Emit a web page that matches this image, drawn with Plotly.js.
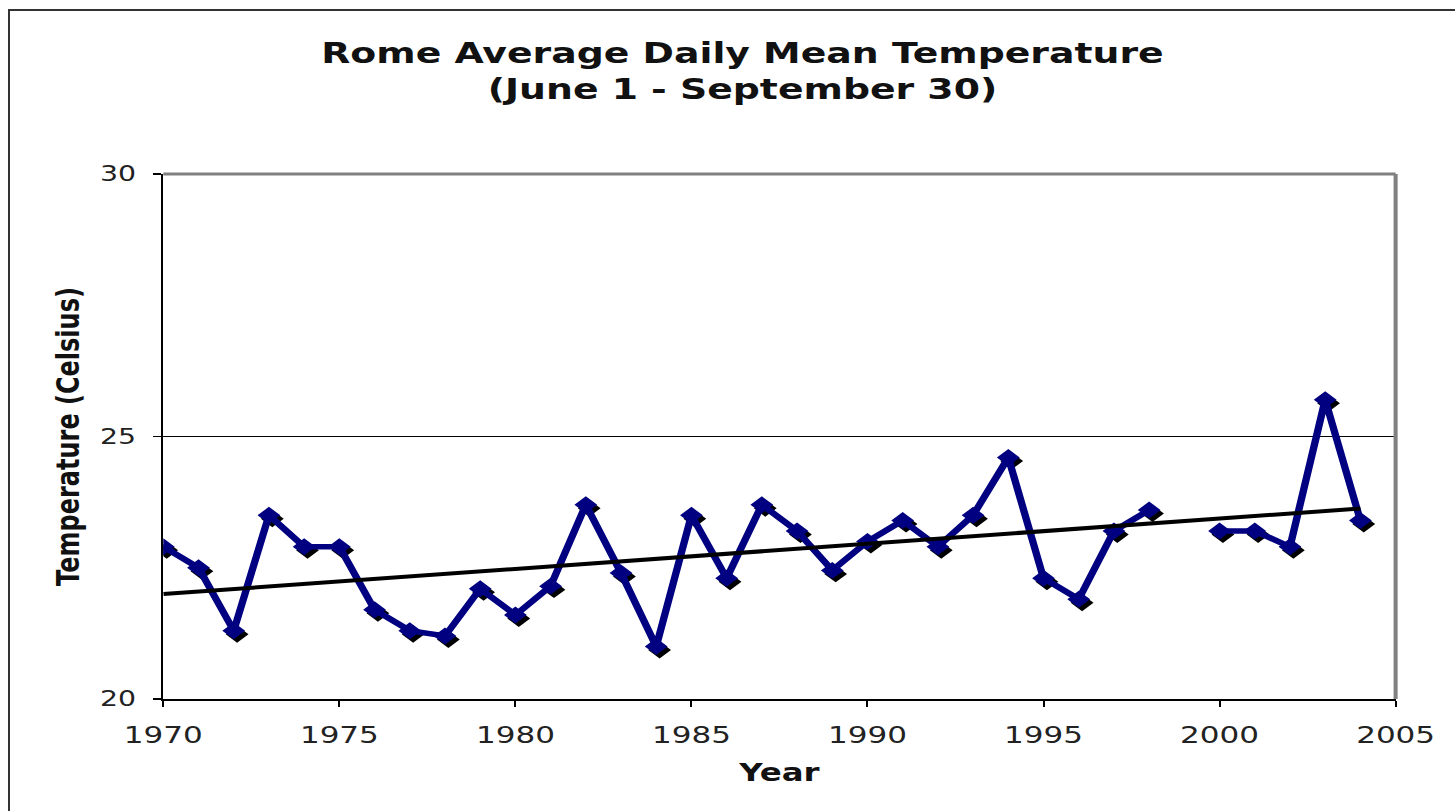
<!DOCTYPE html>
<html><head><meta charset="utf-8">
<script src="https://cdn.plot.ly/plotly-3.0.1.min.js"></script>
<style>
html,body{margin:0;padding:0;background:#fff;overflow:hidden;width:1455px;height:811px;}
#chart{position:absolute;left:0;top:0;width:1078px;height:811px;transform:scaleX(1.34972);transform-origin:0 0;}
#frame{position:absolute;left:8px;top:9px;width:1600px;height:900px;border-left:2px solid #333;border-top:2px solid #333;pointer-events:none;}
</style></head><body>
<div id="chart"></div><div id="frame"></div>
<script>
const years = [1970,1971,1972,1973,1974,1975,1976,1977,1978,1979,
               1980,1981,1982,1983,1984,1985,1986,1987,1988,1989,
               1990,1991,1992,1993,1994,1995,1996,1997,1998,1999,
               2000,2001,2002,2003,2004];
const temps = [22.9,22.5,21.3,23.5,22.9,22.9,21.7,21.3,21.2,22.1,
               21.6,22.15,23.7,22.4,21.0,23.5,22.3,23.7,23.2,22.45,
               23.0,23.4,22.9,23.5,24.6,22.3,21.9,23.2,23.6,null,
               23.2,23.2,22.9,25.7,23.4];
const xTicks = [1970,1975,1980,1985,1990,1995,2000,2005];
const yTicks = [20,25,30];
const xRange = [1970,2005];
const yRange = [20,30];

// Linear trend (least squares) over available points
const pts = years.map((x,i)=>[x,temps[i]]).filter(p=>p[1]!==null);
const n = pts.length;
const mx = pts.reduce((s,p)=>s+p[0],0)/n;
const my = pts.reduce((s,p)=>s+p[1],0)/n;
let sxy=0,sxx=0;
pts.forEach(p=>{sxy+=(p[0]-mx)*(p[1]-my);sxx+=(p[0]-mx)*(p[0]-mx);});
const slope = sxy/sxx, icpt = my - slope*mx;
const trendX = [years[0], years[years.length-1]];
const trendY = trendX.map(x=>icpt+slope*x);

// Layout geometry
const W = 1078, H = 811;
const M = {l:121, r:44, t:174, b:112};
const plotW = W - M.l - M.r, plotH = H - M.t - M.b;
// drop-shadow offset for markers (pixels -> data units)
const shX = 2.5*(xRange[1]-xRange[0])/plotW;
const shY = 3.5*(yRange[1]-yRange[0])/plotH;

const shadow = {
  x: years.map(x=>x+shX), y: temps.map(v=>v===null?null:v-shY),
  mode:'markers', type:'scatter', hoverinfo:'skip',
  marker:{symbol:'diamond', size:13, color:'#000'}
};
const series = {
  x: years, y: temps, mode:'lines+markers', type:'scatter', connectgaps:false,
  line:{color:'#000080', width:5.5},
  marker:{symbol:'diamond', size:13, color:'#000080'}
};
const trend = {
  x: trendX, y: trendY, mode:'lines', type:'scatter',
  line:{color:'#000', width:4}
};

const layout = {
  width:W, height:H,
  margin:{l:M.l, r:M.r, t:M.t, b:M.b, pad:0},
  paper_bgcolor:'rgba(0,0,0,0)', plot_bgcolor:'#fff',
  font:{family:'"DejaVu Sans", Verdana, sans-serif', color:'#111'},
  showlegend:false,
  title:{text:'Rome Average Daily Mean Temperature<br>(June 1 - September 30)',
         font:{size:28, weight:'bold', color:'#111'},
         xref:'container', x:0.5103, xanchor:'center',
         yref:'container', y:1-63/H, yanchor:'top'},
  xaxis:{range:xRange, tickvals:xTicks, ticks:'outside', ticklen:6, tickwidth:1.5, tickcolor:'#000',
         showline:true, linecolor:'#000', linewidth:2, showgrid:false, zeroline:false,
         tickfont:{size:23, color:'#222'}, ticklabelstandoff:8,
         title:{text:'Year', font:{size:24, weight:'bold', color:'#111'}, standoff:18}},
  yaxis:{range:yRange, tickvals:yTicks, ticks:'outside', ticklen:6, tickwidth:1.5, tickcolor:'#000',
         showline:true, linecolor:'#000', linewidth:2, showgrid:true, gridcolor:'#000', gridwidth:1,
         zeroline:false, tickfont:{size:21, color:'#222'}, ticklabelstandoff:8,
         title:{text:'Temperature (Celsius)', font:{size:24, weight:'bold', color:'#111'}, standoff:8}},
  shapes:[
    {type:'line', xref:'paper', yref:'paper', x0:0, x1:1, y0:1, y1:1, line:{color:'#808080', width:3}},
    {type:'line', xref:'paper', yref:'paper', x0:1, x1:1, y0:0, y1:1, line:{color:'#808080', width:3}}
  ]
};
Plotly.newPlot('chart', [shadow, series, trend], layout, {staticPlot:true, responsive:false, displayModeBar:false});
</script>
</body></html>
